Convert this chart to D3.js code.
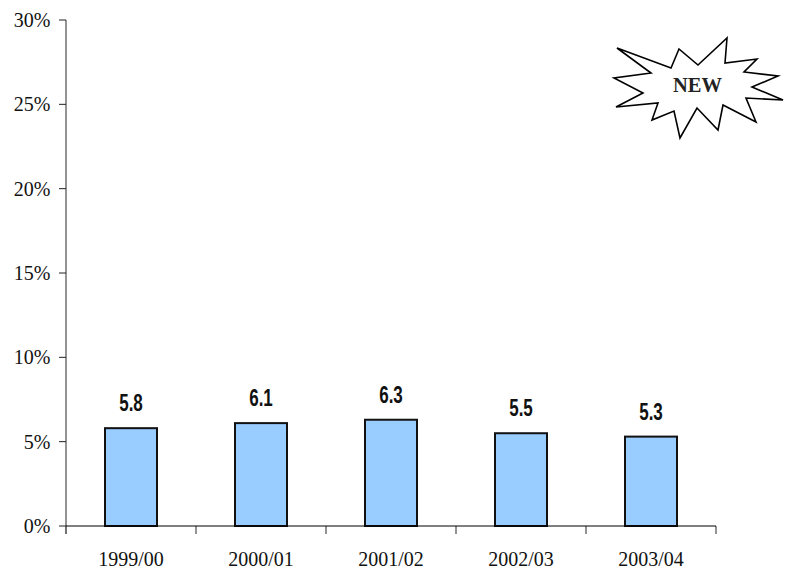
<!DOCTYPE html>
<html><head><meta charset="utf-8"><script src="https://cdn.jsdelivr.net/npm/d3@7/dist/d3.min.js"></script>
<style>html,body{margin:0;padding:0;background:#fff}svg{display:block}</style></head><body><script>
const categories=["1999/00","2000/01","2001/02","2002/03","2003/04"];
const values=[5.8,6.1,6.3,5.5,5.3];
const yTicks=[0,5,10,15,20,25,30];
const badgeText="NEW";
const starOuter=[[617,48],[671,68],[679,49],[698,65],[727,38],[725,63],[757,59],[744,72],[778,76],[752,87],[783,100],[746,98],[756,122],[723,105],[718,130],[697,108],[680,138],[674,111],[652,120],[658,103],[616,107],[643,93],[614,78],[651,73]];
const svg=d3.select("body").append("svg").attr("width",788).attr("height",571);
const x=d3.scaleBand().domain(categories).range([66,716]).padding(0);
const y=d3.scaleLinear().domain([0,30]).range([526,20]);
const ff="'Liberation Serif',serif";
svg.selectAll("rect.bar").data(values).join("rect").attr("class","bar")
 .attr("x",(d,i)=>x(categories[i])+x.bandwidth()/2-26).attr("width",52)
 .attr("y",d=>y(d)).attr("height",d=>y(0)-y(d))
 .attr("fill","#99ccff").attr("stroke","#111").attr("stroke-width",2);
const ax=svg.append("g");
ax.append("line").attr("x1",66).attr("x2",66).attr("y1",y(30)).attr("y2",534).attr("stroke","#666").attr("stroke-width",1.4);
const edges=categories.map(c=>x(c)).concat([716]);
ax.selectAll("line.xt").data(edges).join("line").attr("class","xt").attr("x1",d=>d).attr("x2",d=>d).attr("y1",526).attr("y2",534).attr("stroke","#666").attr("stroke-width",1.4);
ax.selectAll("line.yt").data(yTicks).join("line").attr("class","yt").attr("x1",59).attr("x2",66).attr("y1",d=>y(d)).attr("y2",d=>y(d)).attr("stroke","#222").attr("stroke-width",1);
ax.append("line").attr("x1",66).attr("x2",716).attr("y1",y(0)).attr("y2",y(0)).attr("stroke","#000").attr("stroke-width",1);
svg.selectAll("text.yl").data(yTicks).join("text").attr("class","yl")
 .attr("transform",d=>`translate(50.5,${y(d)+7}) scale(1,1.1)`).attr("text-anchor","end")
 .attr("font-family",ff).attr("font-size",20).attr("fill","#111").text(d=>d+"%");
svg.selectAll("text.xl").data(categories).join("text").attr("class","xl")
 .attr("transform",d=>`translate(${x(d)+x.bandwidth()/2},566) scale(1,1.1)`).attr("text-anchor","middle")
 .attr("font-family",ff).attr("font-size",20).attr("fill","#111").text(d=>d);
svg.selectAll("text.vl").data(values).join("text").attr("class","vl")
 .attr("transform",(d,i)=>`translate(${x(categories[i])+x.bandwidth()/2},${y(d)-17}) scale(0.74,1)`)
 .attr("text-anchor","middle").attr("font-family","'Liberation Sans',sans-serif").attr("font-weight","bold").attr("font-size",23).attr("fill","#111").text(d=>d.toFixed(1));
svg.append("polygon").attr("points",starOuter.map(p=>p.join(",")).join(" ")).attr("fill","#fff").attr("stroke","#000").attr("stroke-width",1.6).attr("stroke-linejoin","miter");
svg.append("text").attr("x",697.5).attr("y",92).attr("text-anchor","middle").attr("font-family",ff).attr("font-weight","bold").attr("font-size",20.5).attr("fill","#222").text(badgeText);
</script></body></html>
